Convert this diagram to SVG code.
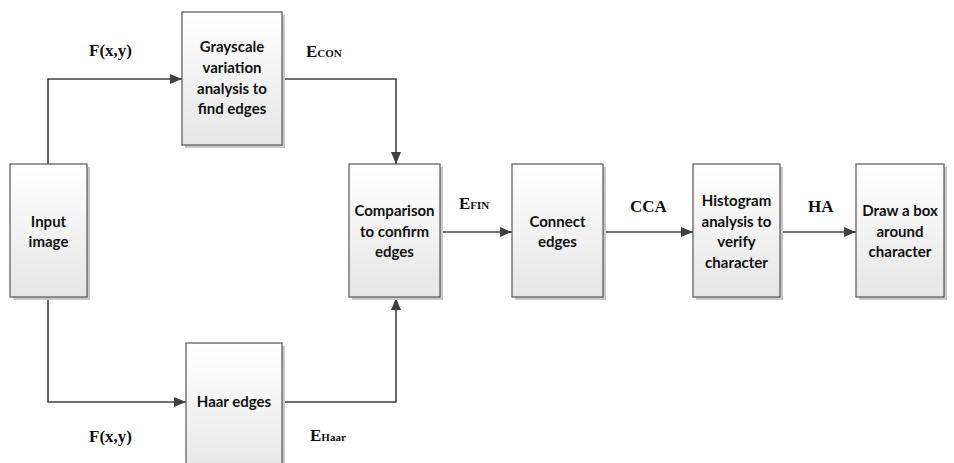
<svg xmlns="http://www.w3.org/2000/svg" width="954" height="463" viewBox="0 0 954 463">
<defs>
<linearGradient id="g" x1="0" y1="0" x2="0" y2="1">
<stop offset="0" stop-color="#ffffff"/>
<stop offset="1" stop-color="#e6e6e6"/>
</linearGradient>
<marker id="ar" markerWidth="12" markerHeight="10" refX="12" refY="5" orient="auto" markerUnits="userSpaceOnUse">
<path d="M0,0 L12,5 L0,10 Z" fill="#404040"/>
</marker>
<style>
.box{fill:url(#g);stroke:#555;stroke-width:1.2}
.sh{fill:#c8c8c8}
.t{font-family:Lato,"Liberation Sans",sans-serif;font-weight:700;font-size:15px;fill:#111;text-anchor:middle}
.c{fill:none;stroke:#404040;stroke-width:1.6;marker-end:url(#ar)}
.l{font-family:"Liberation Serif",serif;font-weight:700;font-size:17px;fill:#111}
.s{font-size:11px}
</style>
</defs>
<rect width="954" height="463" fill="#fff"/>
<g id="connectors">
<polyline class="c" points="48,164 48,79 182,79"/>
<polyline class="c" points="282,79 396,79 396,164"/>
<polyline class="c" points="48,297 48,402 186,402"/>
<polyline class="c" points="282,402 396,402 396,298"/>
<line class="c" x1="440" y1="232" x2="512" y2="232"/>
<line class="c" x1="603" y1="232" x2="693" y2="232"/>
<line class="c" x1="780" y1="232" x2="856" y2="232"/>
</g>
<g id="n-input">
<rect class="sh" x="13" y="167" width="77" height="133"/>
<rect class="box" x="10" y="164" width="77" height="133"/>
<text class="t"><tspan x="48.5" y="227">Input</tspan><tspan x="48.5" y="247">image</tspan></text>
</g>
<g id="n-gray">
<rect class="sh" x="185" y="15" width="100" height="133"/>
<rect class="box" x="182" y="12" width="100" height="133"/>
<text class="t"><tspan x="232" y="52">Grayscale</tspan><tspan x="232" y="73">variation</tspan><tspan x="232" y="94">analysis to</tspan><tspan x="232" y="114">find edges</tspan></text>
</g>
<g id="n-haar">
<rect class="sh" x="189" y="346" width="96" height="133"/>
<rect class="box" x="186" y="343" width="96" height="133"/>
<text class="t" x="234" y="407">Haar edges</text>
</g>
<g id="n-compare">
<rect class="sh" x="352" y="167" width="91" height="133"/>
<rect class="box" x="349" y="164" width="91" height="133"/>
<text class="t"><tspan x="394.5" y="216">Comparison</tspan><tspan x="394.5" y="236.5">to confirm</tspan><tspan x="394.5" y="257">edges</tspan></text>
</g>
<g id="n-connect">
<rect class="sh" x="515" y="167" width="91" height="133"/>
<rect class="box" x="512" y="164" width="91" height="133"/>
<text class="t"><tspan x="557.5" y="227">Connect</tspan><tspan x="557.5" y="247">edges</tspan></text>
</g>
<g id="n-hist">
<rect class="sh" x="696" y="167" width="87" height="133"/>
<rect class="box" x="693" y="164" width="87" height="133"/>
<text class="t"><tspan x="736.5" y="206">Histogram</tspan><tspan x="736.5" y="226.5">analysis to</tspan><tspan x="736.5" y="247">verify</tspan><tspan x="736.5" y="267.5">character</tspan></text>
</g>
<g id="n-draw">
<rect class="sh" x="859" y="167" width="88" height="133"/>
<rect class="box" x="856" y="164" width="88" height="133"/>
<text class="t"><tspan x="900" y="216">Draw a box</tspan><tspan x="900" y="236.5">around</tspan><tspan x="900" y="257">character</tspan></text>
</g>
<g id="labels">
<text class="l" x="89" y="56">F(x,y)</text>
<text class="l" x="89" y="442">F(x,y)</text>
<text class="l" x="306" y="57">E<tspan class="s">CON</tspan></text>
<text class="l" x="310" y="441">E<tspan class="s">Haar</tspan></text>
<text class="l" x="459" y="209">E<tspan class="s">FIN</tspan></text>
<text class="l" x="630" y="212">CCA</text>
<text class="l" x="808" y="212">HA</text>
</g>
</svg>
